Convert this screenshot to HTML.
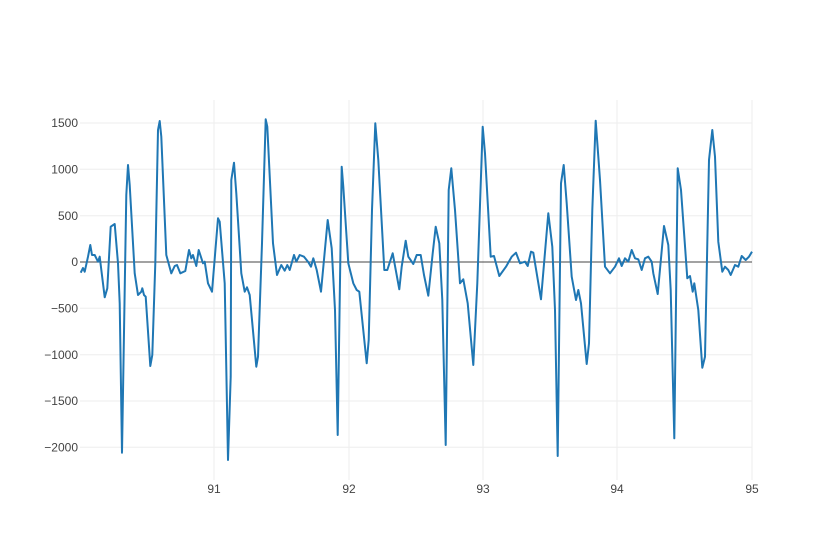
<!DOCTYPE html>
<html><head><meta charset="utf-8"><style>
html,body{margin:0;padding:0;background:#fff;}
svg{display:block;font-family:"Liberation Sans",sans-serif;}
</style></head><body>
<svg width="832" height="560" viewBox="0 0 832 560">
<rect width="832" height="560" fill="#fff"/>
<g stroke="#eeeeee" stroke-width="1">
<line x1="214" y1="100" x2="214" y2="480"/>
<line x1="349" y1="100" x2="349" y2="480"/>
<line x1="483" y1="100" x2="483" y2="480"/>
<line x1="617" y1="100" x2="617" y2="480"/>
<line x1="752" y1="100" x2="752" y2="480"/>
<line x1="80" y1="123" x2="752" y2="123"/>
<line x1="80" y1="169.3" x2="752" y2="169.3"/>
<line x1="80" y1="215.7" x2="752" y2="215.7"/>
<line x1="80" y1="308.3" x2="752" y2="308.3"/>
<line x1="80" y1="354.7" x2="752" y2="354.7"/>
<line x1="80" y1="401" x2="752" y2="401"/>
<line x1="80" y1="447.3" x2="752" y2="447.3"/>
</g>
<line x1="80" y1="262" x2="752" y2="262" stroke="#444" stroke-width="1"/>
<g font-size="12" fill="#444" text-anchor="end">
<text x="78" y="127">1500</text>
<text x="78" y="173.5">1000</text>
<text x="78" y="220">500</text>
<text x="78" y="266">0</text>
<text x="78" y="312.5">−500</text>
<text x="78" y="359">−1000</text>
<text x="78" y="405">−1500</text>
<text x="78" y="451.5">−2000</text>
</g>
<g font-size="12" fill="#444" text-anchor="middle">
<text x="214" y="493">91</text>
<text x="349" y="493">92</text>
<text x="483" y="493">93</text>
<text x="617" y="493">94</text>
<text x="752" y="493">95</text>
</g>
<polyline fill="none" stroke="#1f77b4" stroke-width="2" stroke-linejoin="round" points="
80.7,272.7 83,268 84.7,271.7 88,256.7 90.3,245 92,255 94.7,255 98,261.7 99.7,256.7 104.7,297.3 107.3,288.3 110.7,226.7 114.7,224 118,263.3 119.7,303.3 122,452.7 124.7,290 126.3,195 128,165 129.7,185 134.7,273.3 138,295 141.3,291.7 142.3,288.3 144,295 145.7,296.7 150.3,366 152.3,355 155.3,263.3 158,130 159.7,121 161.3,136.7 166.3,255 171.3,273.3 174.7,266 177,265 180.3,273.3 185.3,271 189,250 191.3,258.3 193,255 196.3,266 198.7,250 203,263.3 204.7,261.7 208,283.3 212,291.7 218,218.3 219.7,221.7 224.7,283.3 228,460 230.7,376.7 231.3,180 234,162.7 236.3,193.3 241.3,273.3 244.7,291.7 247,287.3 249.7,295 256.3,366.7 258,356.7 262,243.3 265.7,119.3 267.3,126.7 273,243.3 277,275 281.3,265 284.7,270.7 287.3,265 289.7,270 294,255 296.3,261.7 299.7,255 304,256.7 308,261.7
311,266.7 313.3,258.3 316.7,270 321,291.7 327.7,220 331.7,248.3 335,310 337.7,435 341.7,166.7 343.3,186.7 348.3,263.3 353.3,283.3 356.7,290 359.3,291.7 366.7,363.3 368.7,340 372,210 375.3,123.3 378.3,160 384.3,270 387.3,270 392.7,253.3 399.3,289.3 401.7,266.7 405.7,240.7 408.3,256.7 413.3,264 416.7,255 420.7,255 424,275 428.3,295.7 432.7,253.3 435.7,226.7 439.3,243.3 442.3,300 445.7,445 448.7,190 451.3,168.3 455,210 460,283.3 463.3,279.3 467.7,303.3 473.3,365 477.3,283.3 482.7,126.7 485,153.3 490.7,256.7 494,256 499.3,276 506,266.7 511.7,256.7 516,252.7 520,263.3 525,261.7
527.7,266 531,251.7 533.3,252.7 541,299.3 548.3,213.3 552.3,246.7 555,310 557.7,456 561,183.3 563.7,165 566.7,203.3 571.7,276.7 576,300 578.3,290 581,303.3 586.7,364 589,343.3 592.3,210 595.7,120.7 600,180 605,266.7 610,273.3 615,266.7 619,258.3 621.7,266 625,258.3 628.3,261.7 631.7,250 635,258.3 638.3,259.3 641.7,270 645,258.3 648.3,256.7 651.7,261.7 653.3,273.3 657.7,294 664,226 668.3,245 670.7,290 674.3,438.3 677.7,168.3 681,190 687.3,278.3 690,276 692.7,291.7 694.3,283.3 698.3,310 702.3,367.7 705,356.7 709,160 712.3,130 715,156.7 718.3,241.7 722.3,271.7 725,266.7 728.3,270 730.7,275 735,265 738.3,266.7 741.7,256 745.7,260 749,256.7 752,251.7"/>
</svg>
</body></html>
